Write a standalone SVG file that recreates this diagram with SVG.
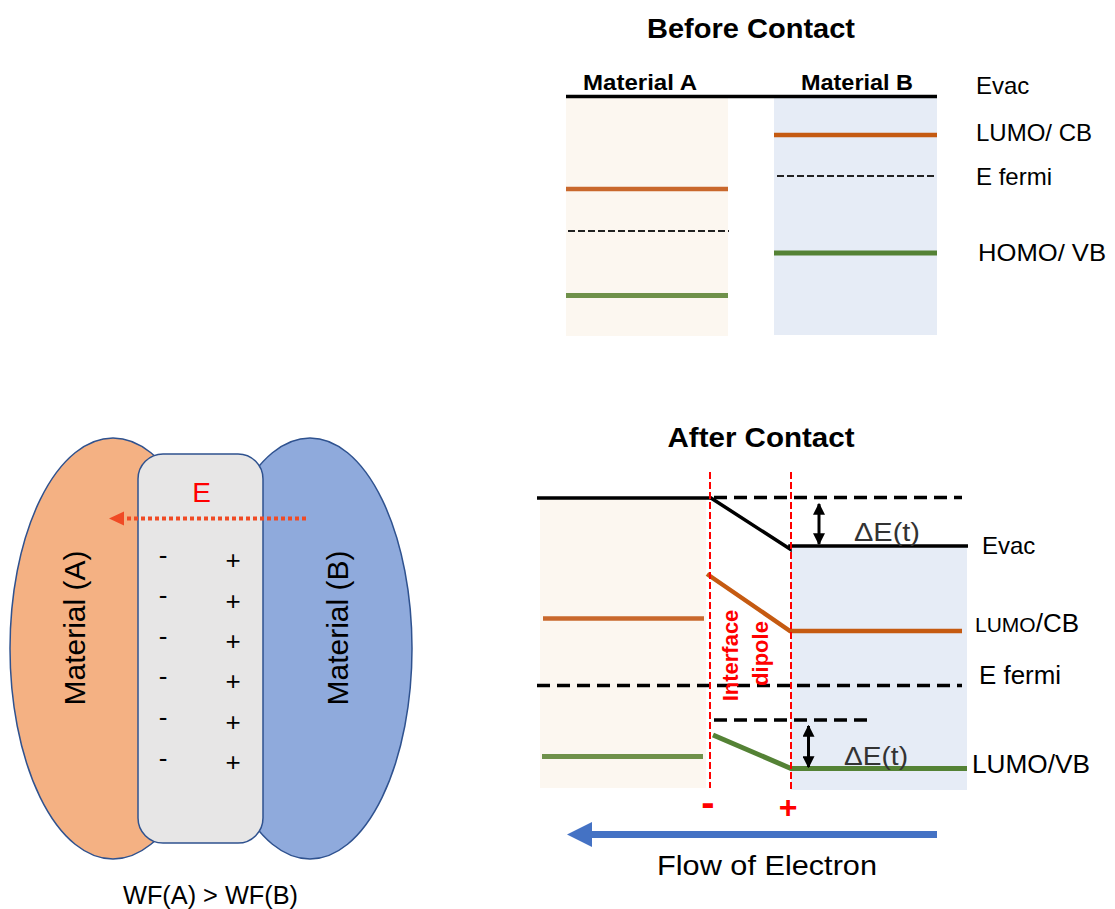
<svg xmlns="http://www.w3.org/2000/svg" width="1115" height="909" viewBox="0 0 1115 909">
<defs>
<style>
.t{font-family:"Liberation Sans",Arial,sans-serif;fill:#000}
.b{font-weight:bold}
.red{fill:#ff0000}
.evac{stroke:#000;stroke-width:3.5;fill:none}
.lumoB{stroke:#c55a11;stroke-width:4.5;fill:none}
.lumoA{stroke:#c9682c;stroke-width:4.5;fill:none}
.homoA{stroke:#6f914a;stroke-width:5;fill:none}
.homoB{stroke:#548235;stroke-width:5;fill:none}
.fermiS{stroke:#222;stroke-width:2;stroke-dasharray:7 3;fill:none}
.dashB{stroke:#000;stroke-width:3.5;stroke-dasharray:13 7;fill:none}
.vred{stroke:#ff0000;stroke-width:2;stroke-dasharray:7 3;fill:none}
.boxA{fill:#fcf7f0}
.boxB{fill:#e6ecf6}
.dbl{stroke:#000;stroke-width:3;marker-start:url(#ah);marker-end:url(#ah)}
</style>
<marker id="ah" viewBox="0 0 10 10" refX="9" refY="5" markerWidth="4" markerHeight="4" orient="auto-start-reverse" markerUnits="strokeWidth">
<path d="M0,0 L10,5 L0,10 z" fill="#000"/>
</marker>
</defs>
<rect width="1115" height="909" fill="#fff"/>

<!-- Left: materials with dipole -->
<g id="materialA">
<ellipse cx="113" cy="648.5" rx="103" ry="210.5" fill="#f4b183" stroke="#2f528f" stroke-width="1.5"/>
<text class="t" font-size="30" text-anchor="middle" transform="translate(85,628) rotate(-90)">Material (A)</text>
</g>
<g id="materialB">
<ellipse cx="310" cy="648.5" rx="102" ry="210.5" fill="#8faadc" stroke="#2f528f" stroke-width="1.5"/>
<text class="t" font-size="30" text-anchor="middle" transform="translate(348,628) rotate(-90)">Material (B)</text>
</g>
<g id="interfaceBox">
<rect x="138" y="454" width="125" height="389" rx="25" ry="25" fill="#e7e6e6" stroke="#2f528f" stroke-width="1.5"/>
<text class="t" font-size="28" x="201.5" y="502" text-anchor="middle" fill="#ff0000" style="fill:#ff0000">E</text>
<g class="t" font-size="26" text-anchor="middle">
<text x="163" y="564">-</text>
<text x="163" y="604">-</text>
<text x="163" y="645">-</text>
<text x="163" y="685">-</text>
<text x="163" y="726">-</text>
<text x="163" y="767">-</text>
</g>
<g class="t" font-size="26" text-anchor="middle">
<text x="233" y="569">+</text>
<text x="233" y="609.5">+</text>
<text x="233" y="650">+</text>
<text x="233" y="689.5">+</text>
<text x="233" y="730.5">+</text>
<text x="233" y="771">+</text>
</g>
</g>
<g id="efield">
<line x1="306" y1="518.5" x2="123" y2="518.5" stroke="#f04a24" stroke-width="4" stroke-dasharray="4 3"/>
<polygon points="109,518.5 124,511.5 124,525.5" fill="#f04a24"/>
</g>
<text id="wfLabel" class="t" font-size="26" x="210.5" y="904" text-anchor="middle" textLength="175" lengthAdjust="spacingAndGlyphs">WF(A) &gt; WF(B)</text>

<!-- Before contact -->
<g id="beforeContact">
<text class="t b" font-size="28" x="751" y="38" text-anchor="middle" textLength="208" lengthAdjust="spacingAndGlyphs">Before Contact</text>
<rect class="boxA" x="566" y="98" width="162" height="238"/>
<rect class="boxB" x="774" y="98" width="163" height="237"/>
<text class="t b" font-size="22" x="640" y="90" text-anchor="middle" textLength="114" lengthAdjust="spacingAndGlyphs">Material A</text>
<text class="t b" font-size="22" x="857" y="90" text-anchor="middle" textLength="112" lengthAdjust="spacingAndGlyphs">Material B</text>
<line class="evac" x1="566" y1="96.5" x2="937" y2="96.5"/>
<line class="lumoA" x1="566" y1="189" x2="728" y2="189"/>
<line class="fermiS" x1="568" y1="231" x2="729" y2="231"/>
<line class="homoA" x1="566" y1="295.5" x2="728" y2="295.5"/>
<line class="lumoB" x1="774" y1="135" x2="937" y2="135"/>
<line class="fermiS" x1="777" y1="176" x2="937" y2="176"/>
<line class="homoB" x1="774" y1="253" x2="937" y2="253"/>
<g class="t" font-size="24">
<text x="976" y="94">Evac</text>
<text x="976" y="141">LUMO/ CB</text>
<text x="976" y="185">E fermi</text>
<text x="978" y="261" textLength="128" lengthAdjust="spacingAndGlyphs">HOMO/ VB</text>
</g>
</g>

<!-- After contact -->
<g id="afterContact">
<text class="t b" font-size="28" x="761" y="447" text-anchor="middle" textLength="187" lengthAdjust="spacingAndGlyphs">After Contact</text>
<rect class="boxA" x="540" y="499" width="166" height="289"/>
<rect class="boxB" x="791" y="546" width="176" height="244"/>
<line class="evac" x1="537" y1="498" x2="712" y2="498"/>
<line class="dashB" x1="714" y1="497.5" x2="962" y2="497.5"/>
<polyline class="evac" points="711,498 790,549 790,546 968,546"/>
<line class="lumoA" x1="543" y1="618.5" x2="704" y2="618.5"/>
<polyline class="lumoB" points="707,574 790,631 962,631"/>
<line class="dashB" x1="537" y1="685.5" x2="962" y2="685.5"/>
<line class="dashB" x1="714" y1="720" x2="872" y2="720"/>
<line class="homoA" x1="542" y1="756.5" x2="703" y2="756.5"/>
<polyline class="homoB" points="713,735 791,768.5 967,768.5"/>
<line class="vred" x1="710" y1="472" x2="710" y2="788"/>
<line class="vred" x1="791" y1="472" x2="791" y2="790"/>
<line class="dbl" x1="819" y1="504" x2="819" y2="544"/>
<line class="dbl" x1="808.5" y1="726" x2="808.5" y2="767"/>
<text class="t" font-size="26" x="854" y="541" textLength="66" lengthAdjust="spacingAndGlyphs" fill="#333" style="fill:#333">ΔE(t)</text>
<text class="t" font-size="26" x="844" y="765" textLength="64" lengthAdjust="spacingAndGlyphs" fill="#333" style="fill:#333">ΔE(t)</text>
<text class="t b red" font-size="22" text-anchor="middle" transform="translate(738,655.5) rotate(-90)">Interface</text>
<text class="t b red" font-size="22" text-anchor="middle" transform="translate(768,653.5) rotate(-90)">dipole</text>
<text class="t b red" font-size="40" x="708" y="816" text-anchor="middle">-</text>
<text class="t b red" font-size="32" x="788" y="818" text-anchor="middle">+</text>
<text class="t" font-size="24" x="982" y="554">Evac</text>
<text class="t" x="975" y="632"><tspan font-size="21">LUMO</tspan><tspan font-size="26">/CB</tspan></text>
<text class="t" font-size="26" x="979" y="684" textLength="82" lengthAdjust="spacingAndGlyphs">E fermi</text>
<text class="t" font-size="26" x="972" y="773" textLength="118" lengthAdjust="spacingAndGlyphs">LUMO/VB</text>
</g>

<g id="connectors">
<line x1="937" y1="834.5" x2="590" y2="834.5" stroke="#4472c4" stroke-width="7"/>
<polygon points="567,834.5 592,822 592,847" fill="#4472c4"/>
</g>
<text id="flowLabel" class="t" font-size="28" x="657" y="875" textLength="220" lengthAdjust="spacingAndGlyphs">Flow of Electron</text>
</svg>
